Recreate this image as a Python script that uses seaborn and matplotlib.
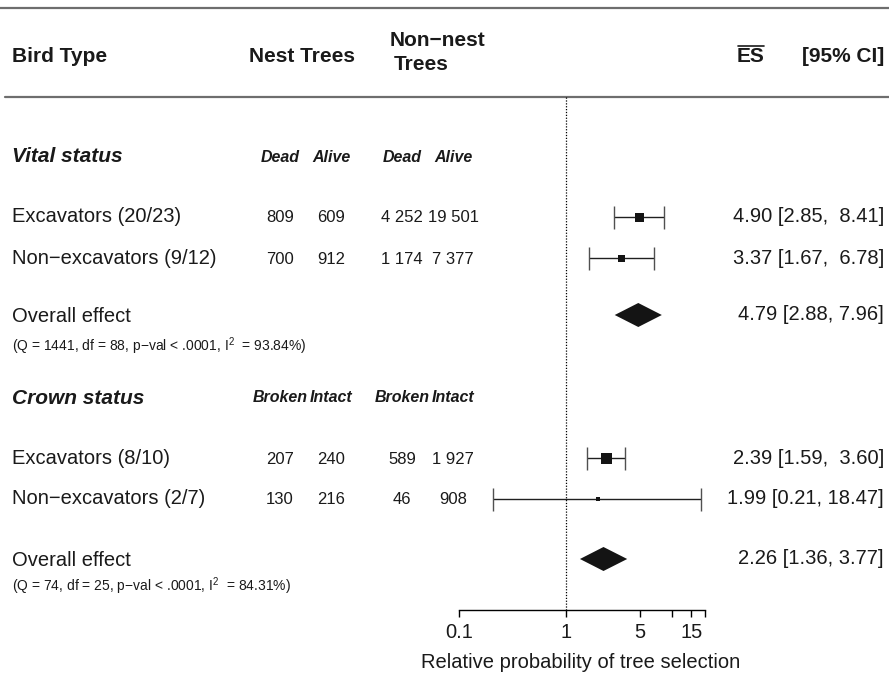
import matplotlib
matplotlib.use("Agg")
import matplotlib.pyplot as plt
import seaborn as sns
import numpy as np
from matplotlib.lines import Line2D
from matplotlib.transforms import blended_transform_factory
from matplotlib.ticker import NullLocator

sns.set_theme(style="white")
plt.rcParams["font.family"] = ["Liberation Sans", "DejaVu Sans"]
plt.rcParams["mathtext.fontset"] = "custom"
plt.rcParams["mathtext.rm"] = "Liberation Sans"
plt.rcParams["mathtext.it"] = "Liberation Sans:italic"
plt.rcParams["mathtext.bf"] = "Liberation Sans:bold"
INK = "#1a1a1a"
plt.rcParams["text.color"] = INK

# ---- data -------------------------------------------------------------
group_titles = ["Vital status", "Crown status"]
group_levels = [("Dead", "Alive"), ("Broken", "Intact")]

study_labels = ["Excavators (20/23)", "Non\u2212excavators (9/12)",
                "Excavators (8/10)", "Non\u2212excavators (2/7)"]
nest_first = [809, 700, 207, 130]
nest_second = [609, 912, 240, 216]
nonnest_first = [4252, 1174, 589, 46]
nonnest_second = [19501, 7377, 1927, 908]

es = [4.90, 3.37, 2.39, 1.99]
ci_low = [2.85, 1.67, 1.59, 0.21]
ci_high = [8.41, 6.78, 3.60, 18.47]
weight_px = [9, 7, 11, 4]          # square side in pixels (study weight)

pooled_es = [4.79, 2.26]
pooled_low = [2.88, 1.36]
pooled_high = [7.96, 3.77]
het_q = [1441, 74]
het_df = [88, 25]
het_i2 = [93.84, 84.31]

tick_values = [0.1, 1, 5, 10, 15, 20]
tick_labels = ["0.1", "1", "5", "", "15", ""]

# ---- layout (pixel rows) ---------------------------------------------
W, H = 889, 676
group_rows = [157, 398]
study_rows = [217, 258, 458, 499]
pooled_rows = [315, 559]
het_rows = [346, 586]
axis_row = 610
col_x = [280, 331, 402, 453]
decade_px = 106.7
x_of_01 = 459


def fmt_n(n):
    return f"{n:,}".replace(",", " ")


fig = plt.figure(figsize=(W / 100, H / 100), dpi=100)
ax = fig.add_axes([0, 0, 1, 1])
ax.set_xscale("log")
ax.set_xlim(10 ** (-1 - x_of_01 / decade_px), 10 ** (-1 + (W - x_of_01) / decade_px))
ax.set_ylim(H, 0)
ax.patch.set_alpha(0)

tr = blended_transform_factory(ax.transAxes, ax.transData)


def txt(xpx, ypx, s, **kw):
    kw.setdefault("va", "center")
    kw.setdefault("fontsize", 14.5)
    return ax.text(xpx / W, ypx, s, transform=tr, **kw)


# rules
ax.axhline(8, color="#6e6e6e", lw=1.6)
ax.axhline(97, xmin=5 / W, xmax=1, color="#6e6e6e", lw=1.6)

# reference line at 1
ax.vlines(1, 97, axis_row, color="black", lw=0.9, linestyles=(0, (1, 1.3)))

# header
hb = dict(fontsize=15, fontweight="bold")
txt(12, 57, "Bird Type", **hb)
txt(249, 57, "Nest Trees", **hb)
txt(390, 41, "Non\u2212nest", **hb)
txt(394, 64, "Trees", **hb)
es_hdr = txt(737, 57, "ES", **hb)
txt(884, 56, "[95% CI]", ha="right", **hb)

# groups
for g, title in enumerate(group_titles):
    y = group_rows[g]
    txt(12, y, title, fontsize=15, fontweight="bold", style="italic")
    a, b = group_levels[g]
    for cx, lab in zip(col_x, [a, b, a, b]):
        txt(cx, y, lab, ha="center", fontsize=11.5, fontweight="bold", style="italic")

# studies: labels and counts
for i, lab in enumerate(study_labels):
    y = study_rows[i]
    txt(12, y, lab)
    for cx, n in zip(col_x, [nest_first[i], nest_second[i], nonnest_first[i], nonnest_second[i]]):
        txt(cx, y + 1, fmt_n(n), ha="center", fontsize=12)
    txt(884, y, f"{es[i]:.2f} [{ci_low[i]:.2f}, {ci_high[i]:5.2f}]", ha="right")

# confidence intervals with end caps
ax.hlines(study_rows, ci_low, ci_high, color="#202020", lw=1.0)
cap = 11.5
ax.vlines(ci_low, np.array(study_rows) - cap, np.array(study_rows) + cap, color="#505050", lw=1.0)
ax.vlines(ci_high, np.array(study_rows) - cap, np.array(study_rows) + cap, color="#505050", lw=1.0)

# weighted point estimates
sizes = [(p * 72 / 100) ** 2 for p in weight_px]
sns.scatterplot(x=es, y=study_rows, marker="s", s=sizes, color="#141414",
                linewidth=0, ax=ax, legend=False, zorder=3)

# pooled effects
for g in range(len(pooled_es)):
    y = pooled_rows[g]
    half = 12
    ax.fill([pooled_low[g], pooled_es[g], pooled_high[g], pooled_es[g]],
            [y, y - half, y, y + half], color="#141414", lw=0)
    txt(12, y + 2, "Overall effect")
    txt(12, het_rows[g],
        f"(Q = {het_q[g]}, df = {het_df[g]}, p\u2212val < .0001, I$^{{2}}$  = {het_i2[g]:.2f}%)",
        fontsize=10)
    txt(884, y - 1, f"{pooled_es[g]:.2f} [{pooled_low[g]:.2f}, {pooled_high[g]:.2f}]", ha="right")

# x axis
for side in ["left", "right", "top"]:
    ax.spines[side].set_visible(False)
ax.spines["bottom"].set_position(("data", axis_row))
ax.spines["bottom"].set_bounds(0.1, 20)
ax.spines["bottom"].set_color("black")
ax.spines["bottom"].set_linewidth(1.0)
ax.set_xticks(tick_values)
ax.set_xticklabels(tick_labels)
ax.xaxis.set_minor_locator(NullLocator())
ax.tick_params(axis="x", bottom=True, direction="out", length=5, width=1,
               color="black", labelsize=14.5, labelcolor=INK, pad=4)
ax.set_yticks([])
ax.set_xlabel("Relative probability of tree selection", fontsize=14.5, color=INK)
ax.xaxis.set_label_coords(581 / W, 1 - 653 / H)

# overline on ES
fig.canvas.draw()
bb = es_hdr.get_window_extent()
inv = fig.transFigure.inverted()
(x0, y0), (x1, y1) = inv.transform([(bb.x0 + 1, bb.y1 + 2), (bb.x1 - 1, bb.y1 + 2)])
fig.add_artist(Line2D([x0, x1], [y0, y1], transform=fig.transFigure, color=INK, lw=1.2))

fig.savefig("out.png", dpi=100)
